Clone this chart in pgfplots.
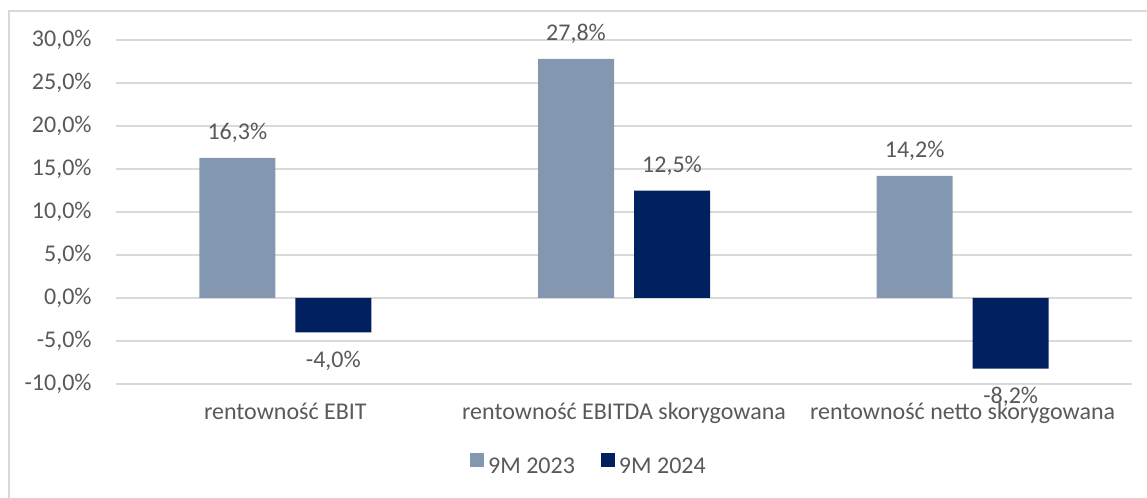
\documentclass[border=0pt]{standalone}
\usepackage{fontspec}
\setmainfont{Carlito}
\usepackage{pgfplots}
\pgfplotsset{compat=1.18}
\definecolor{barA}{HTML}{8497B0}
\definecolor{barB}{HTML}{002060}
\definecolor{txt}{HTML}{595959}
\definecolor{grd}{HTML}{D9D9D9}
\newcommand\f{\fontsize{12}{14}\selectfont}
\begin{document}
\begin{tikzpicture}
\path[use as bounding box] (0,0) rectangle (573.5pt,249pt);
\draw[grd, line width=0.9pt] (4.5pt,0pt) -- (4.5pt,243.5pt) -- (573.5pt,243.5pt);
\begin{axis}[
  at={(58pt,57pt)}, anchor=south west,
  scale only axis, width=508pt, height=172pt,
  ybar=10pt, bar width=38pt,
  xmin=-0.5, xmax=2.5, ymin=-10, ymax=30,
  xtick={0,1,2},
  xticklabels={rentowność EBIT, rentowność EBITDA skorygowana, rentowność netto skorygowana},
  ytick={-10,-5,0,5,10,15,20,25,30},
  /pgf/number format/assume math mode=true,
  yticklabel={\pgfmathprintnumber[fixed,fixed zerofill,precision=1,use comma]{\tick}\%},
  axis line style={draw=none},
  major tick length=0pt,
  ymajorgrids, grid style={grd, line width=0.75pt},
  tick label style={font=\f, text=txt},
  yticklabel style={anchor=east, inner sep=0pt, xshift=-12pt},
  xticklabel style={anchor=base, inner sep=0pt, yshift=-18pt},
  visualization depends on=rawy \as \rawy,
  nodes near coords={\pgfmathprintnumber[fixed,fixed zerofill,precision=1,use comma]{\pgfplotspointmeta}\%},
  every node near coord/.append style={font=\f, text=txt, anchor=center, inner sep=0pt,
     yshift={(\rawy<0)*(-26.5)+12.5}},
  legend columns=2,
  legend style={at={(0.4665,-0.241)}, anchor=center, draw=none, font=\f, text=txt,
     /tikz/every even column/.append style={column sep=11pt}},
  legend image code/.code={\fill[#1,draw=none] (0pt,0pt) rectangle (7pt,7pt);},
  clip=false,
]
\addplot[fill=barA, draw=none] coordinates {(0,16.3) (1,27.8) (2,14.2)};
\addplot[fill=barB, draw=none] coordinates {(0,-4.0) (1,12.5) (2,-8.2)};
\legend{9M 2023, 9M 2024}
\end{axis}
\end{tikzpicture}
\end{document}
